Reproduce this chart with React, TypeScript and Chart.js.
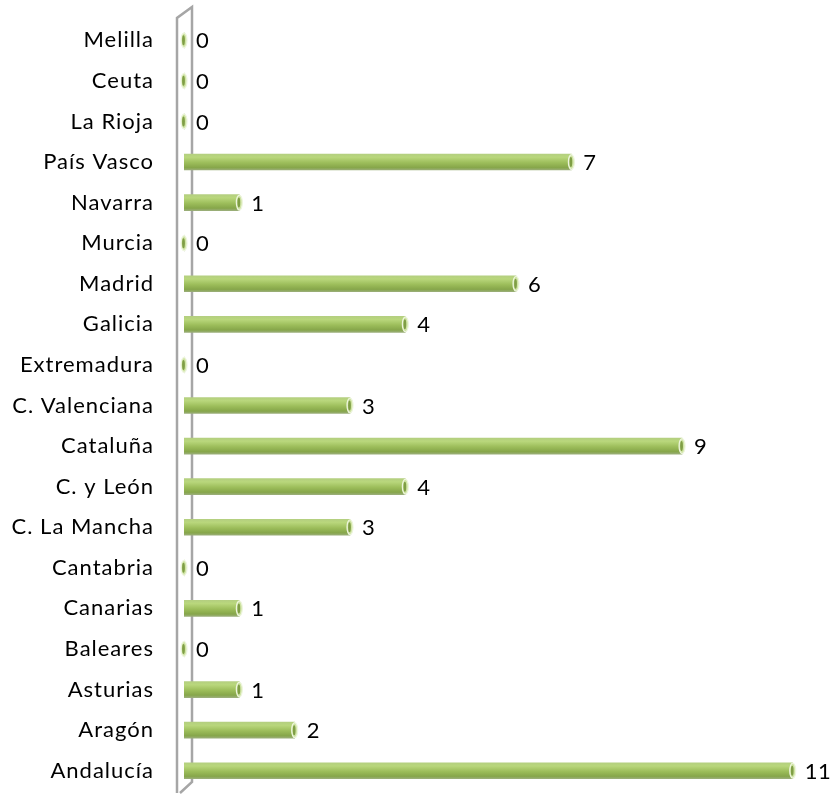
import React, { useEffect, useRef } from "react";
import { Chart, registerables } from "chart.js";

Chart.register(...registerables);

const categories: string[] = [
  "Melilla",
  "Ceuta",
  "La Rioja",
  "País Vasco",
  "Navarra",
  "Murcia",
  "Madrid",
  "Galicia",
  "Extremadura",
  "C. Valenciana",
  "Cataluña",
  "C. y León",
  "C. La Mancha",
  "Cantabria",
  "Canarias",
  "Baleares",
  "Asturias",
  "Aragón",
  "Andalucía",
];

const values: number[] = [0, 0, 0, 7, 1, 0, 6, 4, 0, 3, 9, 4, 3, 0, 1, 0, 1, 2, 11];

const FONT = "Lato, 'Open Sans', sans-serif";
const FONT_SIZE = 22;
const LETTER_SPACING = "1px";

const decorPlugin = {
  id: "decor",
  beforeDraw(chart: any) {
    const ctx = chart.ctx;
    const area = chart.chartArea;
    const x0 = chart.scales.x.getPixelForValue(0);
    ctx.save();
    ctx.strokeStyle = "#a6a6a6";
    ctx.lineWidth = 2.5;
    ctx.lineJoin = "miter";
    const left = x0 - 7;
    const right = x0 + 8;
    const top = area.top - 2;
    const bottom = area.bottom + 2;
    ctx.beginPath();
    ctx.moveTo(left, bottom);
    ctx.lineTo(left, top);
    ctx.lineTo(right, top - 11);
    ctx.lineTo(right, bottom - 11);
    ctx.lineTo(left + 3, bottom);
    ctx.stroke();
    ctx.restore();
  },
  afterDatasetsDraw(chart: any) {
    const ctx = chart.ctx;
    const meta = chart.getDatasetMeta(0);
    const ds = chart.data.datasets[0];
    ctx.save();
    meta.data.forEach((bar: any, i: number) => {
      const h = bar.height;
      const x = bar.x;
      const y = bar.y;
      ctx.beginPath();
      ctx.ellipse(x, y, 3, h / 2 - 0.5, 0, 0, Math.PI * 2);
      ctx.fillStyle = "#cfe4a3";
      ctx.fill();
      ctx.lineWidth = 1.2;
      ctx.strokeStyle = "#eef5df";
      ctx.stroke();
      ctx.beginPath();
      ctx.ellipse(x - 0.5, y, 1.4, h / 2 - 3, 0, 0, Math.PI * 2);
      ctx.fillStyle = "#7f9e45";
      ctx.fill();
      ctx.fillStyle = "#000000";
      ctx.font = `${FONT_SIZE}px ${FONT}`;
      (ctx as any).letterSpacing = "0.5px";
      ctx.textAlign = "left";
      ctx.textBaseline = "middle";
      ctx.fillText(String(ds.data[i]), x + 12, y + 1);
    });
    ctx.restore();
  },
};

export default function App() {
  const ref = useRef<HTMLCanvasElement | null>(null);
  useEffect(() => {
    if (!ref.current) return;
    const chart = new Chart(ref.current, {
      type: "bar",
      data: {
        labels: categories,
        datasets: [
          {
            data: values,
            barThickness: 16,
            borderWidth: 0,
            backgroundColor: (c: any) => {
              const ch = c.chart;
              const ys = ch.scales && ch.scales.y;
              if (!ch.chartArea || !ys || c.dataIndex === undefined) return "#9bbb59";
              const yc = ys.getPixelForValue(c.dataIndex);
              const g = ch.ctx.createLinearGradient(0, yc - 8, 0, yc + 8);
              g.addColorStop(0, "#b4cf80");
              g.addColorStop(0.2, "#b9d77c");
              g.addColorStop(0.55, "#9cbd5a");
              g.addColorStop(0.85, "#86a64a");
              g.addColorStop(1, "#9aae78");
              return g;
            },
          },
        ],
      },
      options: {
        indexAxis: "y",
        animation: false,
        responsive: true,
        maintainAspectRatio: false,
        layout: { padding: { top: 20, bottom: 5, left: 0, right: 0 } },
        plugins: {
          legend: { display: false },
          tooltip: { enabled: false },
        },
        scales: {
          x: {
            display: false,
            min: 0,
            max: 11.8,
          },
          y: {
            grid: { display: false, drawTicks: false },
            border: { display: false },
            ticks: {
              color: "#000000",
              padding: 30,
              font: { family: FONT, size: FONT_SIZE },
            },
            afterFit: (s: any) => {
              s.width = 184;
              s.paddingTop = 0;
              s.paddingBottom = 0;
            },
          },
        },
      },
      plugins: [
        {
          id: "spacing",
          beforeDraw(chart: any) {
            (chart.ctx as any).letterSpacing = LETTER_SPACING;
          },
        },
        decorPlugin,
      ],
    });
    return () => chart.destroy();
  }, []);
  return (
    <div style={{ position: "absolute", left: 0, top: 0, width: 837, height: 796, background: "#ffffff" }}>
      <canvas ref={ref} />
    </div>
  );
}
